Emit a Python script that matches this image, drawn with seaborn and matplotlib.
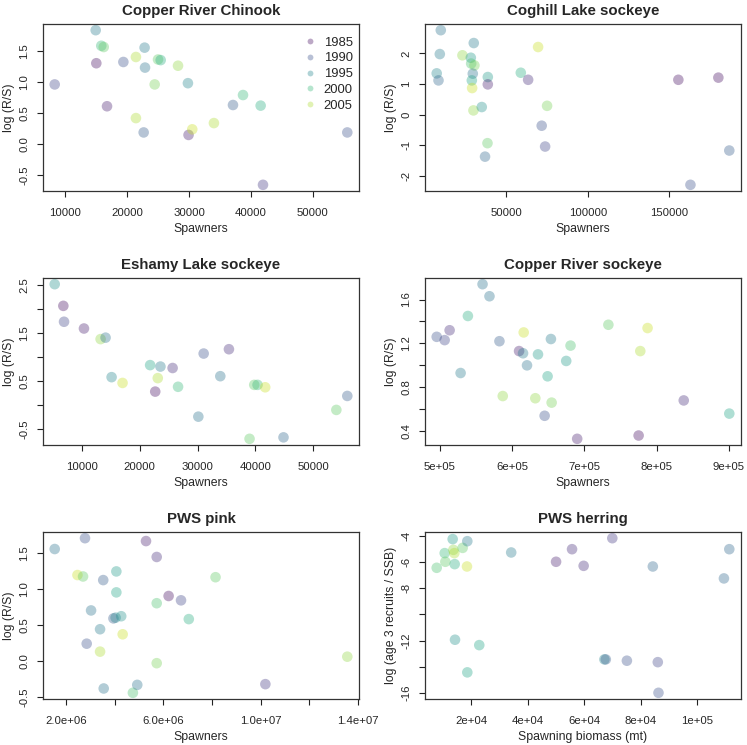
import matplotlib
matplotlib.use("Agg")
import matplotlib.pyplot as plt
import numpy as np
import pandas as pd
import seaborn as sns
from matplotlib.colors import Normalize
from matplotlib.lines import Line2D

# ---------- data ----------

chinook_spawners = [8277, 14900, 15000, 15800, 16200, 16730, 19370, 21400, 21400, 22650,
                    22800, 22870, 24430, 24970, 25400, 28200, 29800, 29900, 30500, 34000,
                    37080, 38700, 41550, 41930, 55550]
chinook_logrs = [0.96, 1.83, 1.30, 1.58, 1.56, 0.61, 1.32, 1.40, 0.42, 0.19,
                 1.55, 1.23, 0.96, 1.36, 1.35, 1.26, 0.98, 0.15, 0.24, 0.34,
                 0.63, 0.79, 0.62, -0.65, 0.19]
chinook_year = [1989, 1994, 1985, 2000, 2002, 1986, 1990, 2005, 2005, 1991,
                1994, 1993, 2003, 2002, 1999, 2004, 1995, 1986, 2006, 2005,
                1991, 2000, 1999, 1988, 1990]

coghill_spawners = [10000, 9400, 7500, 8600, 23260, 28400, 30200, 28600, 30600, 29600,
                    29000, 29200, 30000, 35100, 38800, 38800, 38600, 37100, 59000, 63500,
                    69600, 71800, 73900, 75100, 155500, 162900, 180000, 186700]
coghill_logrs = [2.76, 1.98, 1.35, 1.12, 1.94, 1.86, 2.34, 1.67, 1.61, 1.34,
                 1.12, 0.87, 0.14, 0.25, 1.23, 0.99, -0.93, -1.37, 1.37, 1.14,
                 2.21, -0.36, -1.04, 0.29, 1.14, -2.29, 1.21, -1.17]
coghill_year = [1993, 1994, 1995, 1992, 2004, 1997, 1994, 2001, 2003, 1993,
                1998, 2006, 2004, 1996, 1997, 1986, 2002, 1992, 1999, 1987,
                2006, 1990, 1989, 2003, 1985, 1990, 1985, 1991]

eshamy_spawners = [5350, 6840, 6960, 10400, 13270, 14130, 15170, 17060, 21820, 23600,
                   23140, 22700, 25700, 26640, 30140, 31060, 33930, 35420, 38980, 39790,
                   40360, 41680, 44840, 53960, 55850]
eshamy_logrs = [2.51, 2.06, 1.73, 1.59, 1.37, 1.40, 0.58, 0.46, 0.83, 0.80,
                0.56, 0.28, 0.77, 0.38, -0.24, 1.07, 0.60, 1.16, -0.70, 0.42,
                0.42, 0.37, -0.67, -0.10, 0.19]
eshamy_year = [1996, 1985, 1989, 1986, 2004, 1993, 1995, 2006, 1998, 1994,
               2005, 1985, 1987, 2000, 1993, 1990, 1993, 1987, 2002, 2002,
               2000, 2006, 1992, 2002, 1991]

sockeye_spawners = [495400, 506400, 513300, 528500, 538600, 558900, 568500, 582300, 586900, 609500,
                    615900, 615000, 620500, 632000, 635700, 644900, 649000, 653600, 654600, 674800,
                    680800, 690000, 733200, 777400, 775100, 787500, 837600, 900700]
sockeye_logrs = [1.26, 1.23, 1.32, 0.93, 1.45, 1.74, 1.63, 1.22, 0.72, 1.13,
                 1.30, 1.11, 1.00, 0.70, 1.10, 0.54, 0.90, 1.24, 0.66, 1.04,
                 1.18, 0.33, 1.37, 1.13, 0.36, 1.34, 0.68, 0.56]
sockeye_year = [1990, 1989, 1987, 1994, 1999, 1993, 1993, 1991, 2004, 1986,
                2006, 1994, 1993, 2004, 1997, 1990, 1998, 1994, 2003, 1997,
                2001, 1986, 2002, 2005, 1985, 2006, 1987, 1998]

pink_spawners = [1.534e6, 2.78e6, 2.47e6, 2.70e6, 2.85e6, 3.03e6, 3.40e6, 3.40e6, 3.53e6, 3.55e6,
                 3.95e6, 4.04e6, 4.07e6, 4.07e6, 4.27e6, 4.33e6, 4.75e6, 4.93e6, 5.29e6, 5.73e6,
                 5.73e6, 5.73e6, 6.22e6, 6.73e6, 7.05e6, 8.15e6, 1.02e7, 1.357e7]
pink_logrs = [1.55, 1.70, 1.19, 1.17, 0.24, 0.70, 0.44, 0.13, 1.12, -0.38,
              0.59, 0.60, 1.24, 0.95, 0.62, 0.37, -0.44, -0.33, 1.66, 1.44,
              0.80, -0.03, 0.90, 0.84, 0.58, 1.16, -0.32, 0.06]
pink_year = [1993, 1990, 2006, 2002, 1990, 1993, 1994, 2005, 1991, 1993,
             1991, 1995, 1997, 1998, 1996, 2006, 2001, 1993, 1986, 1987,
             2001, 2003, 1985, 1989, 1999, 2002, 1988, 2004]

herring_biomass = [7760, 10590, 10820, 13410, 13650, 14000, 14120, 14240, 16940, 18590,
                   18470, 18590, 22820, 34120, 50000, 55650, 59760, 67100, 67600, 69900,
                   75060, 84240, 86000, 86240, 109400, 111300]
herring_logrs = [-6.44, -5.32, -5.98, -4.25, -5.07, -5.32, -6.16, -11.93, -4.92, -4.41,
                 -6.34, -14.42, -12.34, -5.27, -5.98, -5.02, -6.29, -13.43, -13.43, -4.18,
                 -13.53, -6.34, -13.64, -15.98, -7.25, -5.02]
herring_year = [2001, 2000, 2002, 1997, 2004, 2005, 1999, 1996, 2002, 1994,
                2006, 1998, 1998, 1994, 1986, 1987, 1987, 1995, 1991, 1988,
                1990, 1992, 1989, 1990, 1992, 1992]

legend_years = [1985, 1990, 1995, 2000, 2005]

# tick positions / labels (R-style: some ticks unlabeled)
chinook_xticks = [10000, 20000, 30000, 40000, 50000]
chinook_xlabels = ["10000", "20000", "30000", "40000", "50000"]
chinook_yticks = [-0.5, 0.0, 0.5, 1.0, 1.5]
chinook_ylabels = ["-0.5", "0.0", "0.5", "1.0", "1.5"]

coghill_xticks = [50000, 100000, 150000]
coghill_xlabels = ["50000", "100000", "150000"]
coghill_yticks = [-2, -1, 0, 1, 2]
coghill_ylabels = ["-2", "-1", "0", "1", "2"]

eshamy_xticks = [10000, 20000, 30000, 40000, 50000]
eshamy_xlabels = ["10000", "20000", "30000", "40000", "50000"]
eshamy_yticks = [-0.5, 0.0, 0.5, 1.0, 1.5, 2.0, 2.5]
eshamy_ylabels = ["-0.5", "", "0.5", "", "1.5", "", "2.5"]

sockeye_xticks = [5e5, 6e5, 7e5, 8e5, 9e5]
sockeye_xlabels = ["5e+05", "6e+05", "7e+05", "8e+05", "9e+05"]
sockeye_yticks = [0.4, 0.6, 0.8, 1.0, 1.2, 1.4, 1.6]
sockeye_ylabels = ["0.4", "", "0.8", "", "1.2", "", "1.6"]

pink_xticks = [2e6, 4e6, 6e6, 8e6, 1e7, 1.2e7, 1.4e7]
pink_xlabels = ["2.0e+06", "", "6.0e+06", "", "1.0e+07", "", "1.4e+07"]
pink_yticks = [-0.5, 0.0, 0.5, 1.0, 1.5]
pink_ylabels = ["-0.5", "0.0", "0.5", "1.0", "1.5"]

herring_xticks = [2e4, 4e4, 6e4, 8e4, 1e5]
herring_xlabels = ["2e+04", "4e+04", "6e+04", "8e+04", "1e+05"]
herring_yticks = [-16, -14, -12, -10, -8, -6, -4]
herring_ylabels = ["-16", "", "-12", "", "-8", "-6", "-4"]

# ---------- style ----------

sns.set_theme(style="ticks", rc={"axes.unicode_minus": False})
plt.rcParams["font.family"] = ["Liberation Sans", "DejaVu Sans"]

NORM = Normalize(1984, 2008)
CMAP = plt.get_cmap("viridis")
ALPHA = 0.36

fig = plt.figure(figsize=(7.47, 7.45), dpi=100)

COLS = [(43, 359), (425, 741)]
ROWS = [(24, 191), (278, 445), (532, 699)]


def _axes(r, c):
    x0, x1 = COLS[c]
    y0, y1 = ROWS[r]
    W, H = 747, 745
    return fig.add_axes([x0 / W, 1 - y1 / H, (x1 - x0) / W, (y1 - y0) / H])


def _pad(v, f=0.04):
    lo, hi = min(v), max(v)
    d = (hi - lo) * f
    return lo - d, hi + d


def panel(ax, xs, ys, years, title, xlabel, ylabel, xt, xl, yt, yl):
    df = pd.DataFrame({"x": xs, "y": ys, "year": years})
    sns.scatterplot(data=df, x="x", y="y", hue="year", palette="viridis",
                    hue_norm=NORM, s=58, alpha=ALPHA, linewidth=0,
                    legend=False, ax=ax)
    ax.set_xlim(*_pad(xs))
    ax.set_ylim(*_pad(ys))
    ax.set_xticks(xt)
    ax.set_xticklabels(xl)
    ax.set_yticks(yt)
    ax.set_yticklabels(yl, rotation=90, va="center")
    ax.tick_params(length=4.5, width=0.8, labelsize=8.2, color="#222222")
    ax.tick_params(axis="x", pad=8)
    ax.tick_params(axis="y", pad=5.5)
    for s in ax.spines.values():
        s.set_visible(True)
        s.set_linewidth(0.9)
        s.set_color("#333333")
    ax.set_title(title, fontsize=10.8, fontweight="bold", pad=6.5)
    ax.set_xlabel(xlabel, fontsize=8.8, labelpad=3.5)
    ax.set_ylabel(ylabel, fontsize=8.8, labelpad=3)
    return ax


ax1 = panel(_axes(0, 0), chinook_spawners, chinook_logrs, chinook_year,
            "Copper River Chinook", "Spawners", "log (R/S)",
            chinook_xticks, chinook_xlabels, chinook_yticks, chinook_ylabels)
panel(_axes(0, 1), coghill_spawners, coghill_logrs, coghill_year,
      "Coghill Lake sockeye", "Spawners", "log (R/S)",
      coghill_xticks, coghill_xlabels, coghill_yticks, coghill_ylabels)
panel(_axes(1, 0), eshamy_spawners, eshamy_logrs, eshamy_year,
      "Eshamy Lake sockeye", "Spawners", "log (R/S)",
      eshamy_xticks, eshamy_xlabels, eshamy_yticks, eshamy_ylabels)
panel(_axes(1, 1), sockeye_spawners, sockeye_logrs, sockeye_year,
      "Copper River sockeye", "Spawners", "log (R/S)",
      sockeye_xticks, sockeye_xlabels, sockeye_yticks, sockeye_ylabels)
panel(_axes(2, 0), pink_spawners, pink_logrs, pink_year,
      "PWS pink", "Spawners", "log (R/S)",
      pink_xticks, pink_xlabels, pink_yticks, pink_ylabels)
panel(_axes(2, 1), herring_biomass, herring_logrs, herring_year,
      "PWS herring", "Spawning biomass (mt)", "log (age 3 recruits / SSB)",
      herring_xticks, herring_xlabels, herring_yticks, herring_ylabels)

handles = [Line2D([], [], marker="o", linestyle="", markersize=4.2,
                  markerfacecolor=CMAP(NORM(y)), markeredgewidth=0, alpha=ALPHA)
           for y in legend_years]
ax1.legend(handles, [str(y) for y in legend_years], loc="upper right",
           bbox_to_anchor=(0.98, 0.925), frameon=False, fontsize=9.4,
           handletextpad=0.45, handlelength=1.2, labelspacing=0.28,
           borderaxespad=0, borderpad=0)

fig.savefig("out.png", dpi=100, facecolor="white")
